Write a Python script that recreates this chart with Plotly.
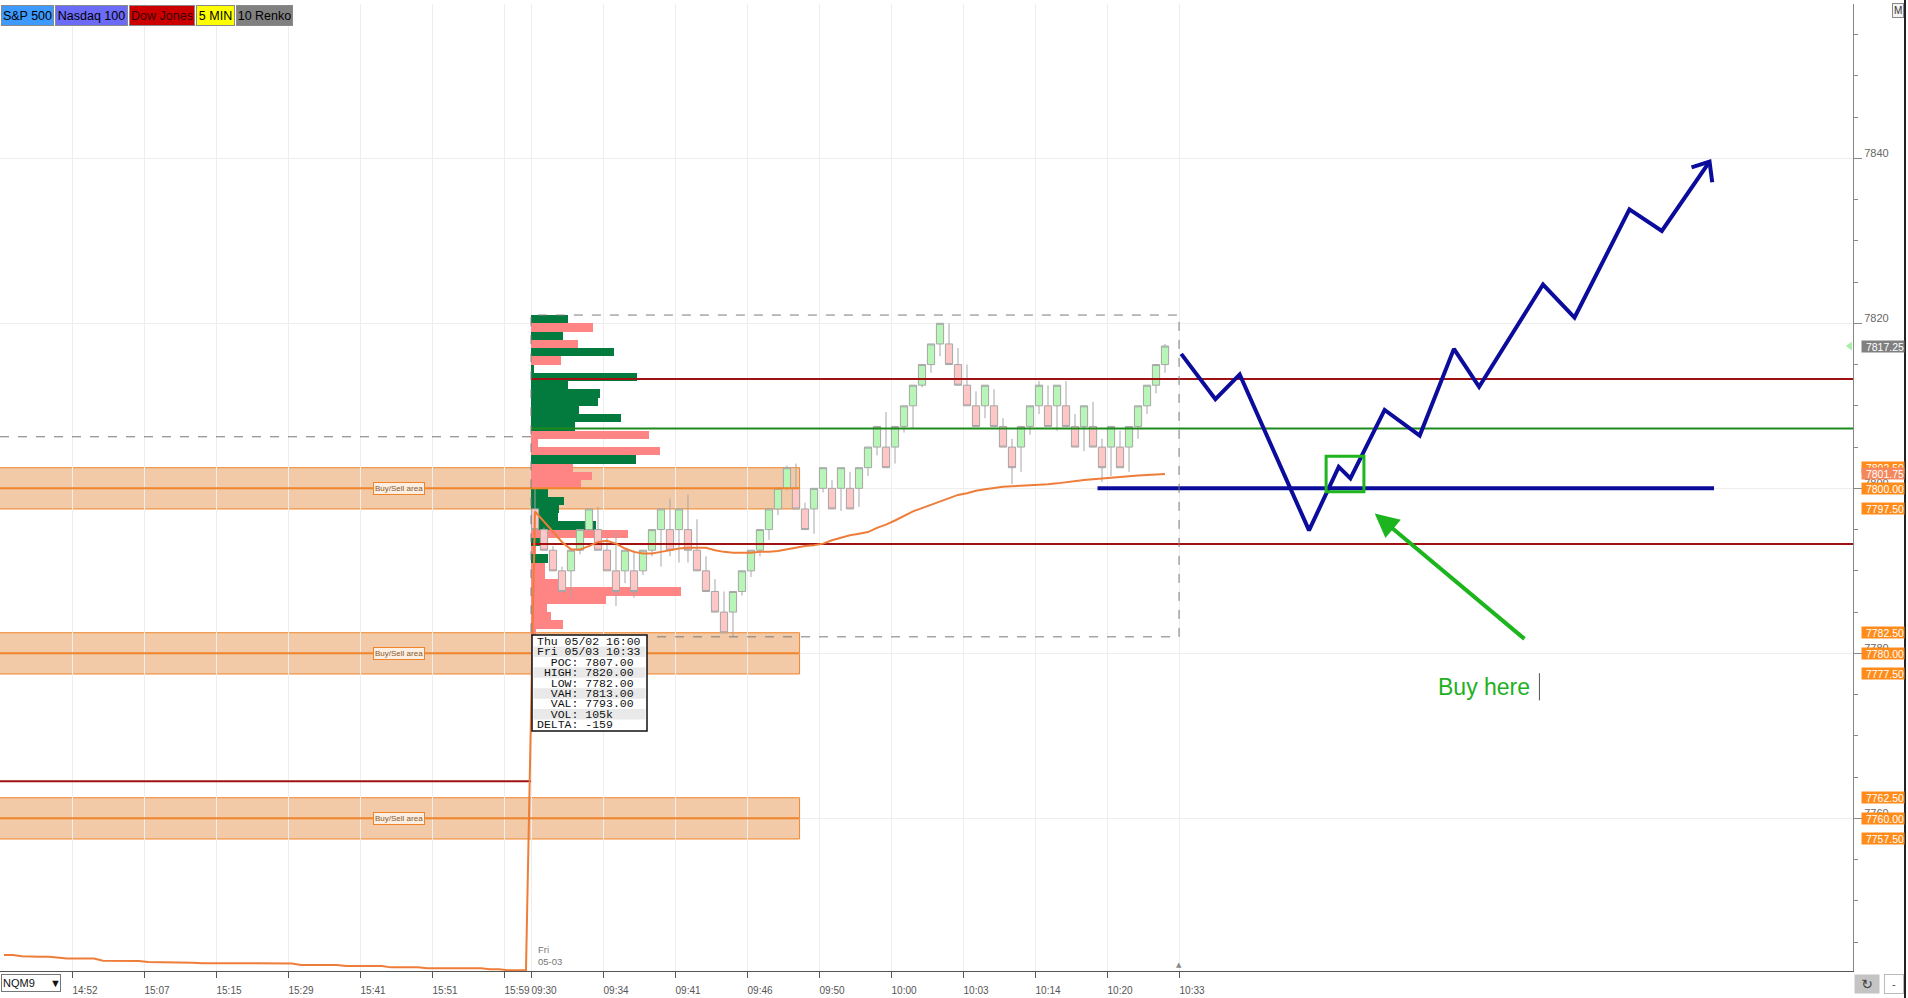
import plotly.graph_objects as go

# ---------------- data ----------------
prev_time_labels = ["14:52", "15:07", "15:15", "15:29", "15:41", "15:51", "15:59"]
session_time_label = "09:30"
day_time_labels = ["09:34", "09:41", "09:46", "09:50", "10:00", "10:03", "10:14", "10:20", "10:33"]

candle_open = [
    7797.5, 7795.0, 7792.5, 7790.0, 7790.0, 7792.5, 7795.0, 7795.0, 7792.5, 7790.0,
    7790.0, 7790.0, 7790.0, 7792.5, 7795.0, 7795.0, 7795.0, 7795.0, 7792.5, 7790.0,
    7787.5, 7785.0, 7785.0, 7787.5, 7790.0, 7792.5, 7795.0, 7797.5, 7800.0, 7800.0,
    7797.5, 7797.5, 7800.0, 7800.0, 7800.0, 7800.0, 7800.0, 7802.5, 7805.0, 7805.0,
    7805.0, 7807.5, 7810.0, 7812.5, 7815.0, 7817.5, 7817.5, 7815.0, 7812.5, 7810.0,
    7810.0, 7810.0, 7807.5, 7805.0, 7805.0, 7807.5, 7810.0, 7810.0, 7810.0, 7810.0,
    7807.5, 7807.5, 7807.5, 7805.0, 7805.0, 7805.0, 7805.0, 7807.5, 7810.0, 7812.5,
    7815.0]
candle_close = [
    7795.0, 7792.5, 7790.0, 7787.5, 7792.5, 7795.0, 7797.5, 7792.5, 7790.0, 7787.5,
    7792.5, 7787.5, 7792.5, 7795.0, 7797.5, 7792.5, 7797.5, 7792.5, 7790.0, 7787.5,
    7785.0, 7782.5, 7787.5, 7790.0, 7792.5, 7795.0, 7797.5, 7800.0, 7802.5, 7797.5,
    7795.0, 7800.0, 7802.5, 7797.5, 7802.5, 7797.5, 7802.5, 7805.0, 7807.5, 7802.5,
    7807.5, 7810.0, 7812.5, 7815.0, 7817.5, 7820.0, 7815.0, 7812.5, 7810.0, 7807.5,
    7812.5, 7807.5, 7805.0, 7802.5, 7807.5, 7810.0, 7812.5, 7807.5, 7812.5, 7807.5,
    7805.0, 7810.0, 7805.0, 7802.5, 7807.5, 7802.5, 7807.5, 7810.0, 7812.5, 7815.0,
    7817.25]
candle_high = [
    7800.0, 7795.25, 7793.0, 7790.5, 7792.5, 7795.0, 7797.5, 7797.75, 7794.0, 7794.75,
    7792.5, 7792.5, 7792.5, 7795.0, 7797.5, 7798.75, 7797.5, 7799.25, 7796.25, 7791.75,
    7789.0, 7787.5, 7787.5, 7790.0, 7792.5, 7795.0, 7797.5, 7800.0, 7802.75, 7803.0,
    7798.25, 7800.0, 7802.5, 7801.0, 7802.5, 7802.0, 7802.5, 7805.0, 7807.5, 7809.25,
    7807.5, 7810.0, 7812.5, 7815.0, 7817.5, 7820.0, 7820.0, 7817.0, 7815.0, 7811.75,
    7812.5, 7812.0, 7808.5, 7806.0, 7807.5, 7810.0, 7813.0, 7812.5, 7812.5, 7813.0,
    7809.0, 7810.0, 7810.5, 7806.0, 7807.5, 7807.0, 7807.5, 7810.0, 7812.5, 7815.0,
    7817.5]
candle_low = [
    7795.0, 7792.5, 7790.0, 7787.5, 7786.75, 7792.0, 7794.75, 7792.5, 7790.0, 7785.75,
    7788.5, 7786.75, 7789.5, 7791.75, 7790.5, 7791.75, 7791.0, 7791.0, 7790.0, 7787.5,
    7785.0, 7782.5, 7782.0, 7787.0, 7789.25, 7791.75, 7793.75, 7796.75, 7799.75, 7797.5,
    7795.0, 7794.5, 7799.5, 7797.5, 7797.25, 7797.5, 7797.75, 7801.5, 7804.0, 7802.5,
    7803.0, 7806.75, 7807.25, 7812.25, 7814.0, 7816.0, 7815.0, 7812.5, 7810.0, 7807.5,
    7808.5, 7807.5, 7805.0, 7800.5, 7802.0, 7806.5, 7809.0, 7807.5, 7807.0, 7807.5,
    7805.0, 7804.5, 7805.0, 7800.75, 7801.5, 7802.5, 7802.0, 7806.0, 7809.0, 7811.5,
    7814.0]

vwap_prev = [
    7743.43, 7743.43, 7743.3, 7743.23, 7743.23, 7743.23, 7743.1, 7743.03, 7743.03, 7743.03,
    7743.0, 7742.74, 7742.74, 7742.74, 7742.74, 7742.7, 7742.58, 7742.58, 7742.58, 7742.58,
    7742.58, 7742.5, 7742.45, 7742.45, 7742.42, 7742.42, 7742.42, 7742.42, 7742.42, 7742.42,
    7742.42, 7742.42, 7742.42, 7742.22, 7742.22, 7742.22, 7742.22, 7742.22, 7742.1, 7742.1,
    7742.1, 7742.1, 7742.1, 7741.94, 7741.94, 7741.94, 7741.94, 7741.82, 7741.82, 7741.82,
    7741.82, 7741.82, 7741.82, 7741.82, 7741.7, 7741.7, 7741.6, 7741.6, 7741.6]
vwap_day = [
    7797.2, 7796.0, 7794.7, 7793.5, 7792.6, 7792.6, 7793.0, 7793.5, 7793.65, 7793.3,
    7792.7, 7792.3, 7792.1, 7792.1, 7792.3, 7792.5, 7792.7, 7792.8, 7792.8, 7792.8,
    7792.5, 7792.3, 7792.2, 7792.2, 7792.2, 7792.3, 7792.3, 7792.4, 7792.6, 7792.8,
    7793.0, 7793.1, 7793.3, 7793.7, 7794.0, 7794.3, 7794.5, 7794.7, 7795.2, 7795.6,
    7796.1, 7796.7, 7797.2, 7797.6, 7798.0, 7798.4, 7798.8, 7799.2, 7799.4, 7799.7,
    7799.9, 7800.05, 7800.2, 7800.25, 7800.3, 7800.35, 7800.45, 7800.5, 7800.6, 7800.75,
    7800.9, 7801.0, 7801.1, 7801.2, 7801.3, 7801.4, 7801.5, 7801.55, 7801.6, 7801.7,
    7801.75]

profile_price = [7820, 7819, 7818, 7817, 7816, 7815, 7814, 7813, 7812, 7811,
                 7810, 7809, 7808, 7807, 7806, 7805, 7804, 7803, 7802, 7801,
                 7800, 7799, 7798, 7797, 7796, 7795, 7794, 7793, 7792, 7791,
                 7790, 7789, 7788, 7787, 7786, 7785, 7784, 7783, 7782]
profile_volume = [37, 62, 32, 47, 83, 30, 3, 106, 37, 69,
                  67, 48, 90, 44, 118, 7, 129, 105, 42, 61,
                  50, 17, 33, 28, 27, 65, 97, 17, 5, 17,
                  14, 14, 27, 150, 75, 16, 20, 32, 5]
profile_side = ["B", "S", "B", "S", "B", "S", "B", "B", "B", "B",
                "B", "B", "B", "B", "S", "S", "S", "B", "S", "S",
                "S", "B", "B", "B", "B", "B", "S", "B", "S", "B",
                "S", "S", "S", "S", "S", "S", "S", "S", "S"]

poc, vah, val = 7807.0, 7813.0, 7793.0
session_high, session_low = 7820.0, 7782.0
session_vol, session_delta = "105k", -159
session_from, session_to = "Thu 05/02 16:00", "Fri 05/03 10:33"
buysell_levels = [7800.0, 7780.0, 7760.0]
buysell_half = 2.5
prev_level_red = 7764.5
prev_level_dashed = 7806.25
last_price = 7817.25
vwap_last = 7801.75
symbol = "NQM9"
day_label = "Fri<br>05-03"

buttons = [("S&P 500", "#3d9bff", "#000000"), ("Nasdaq 100", "#6b6bf7", "#000000"),
           ("Dow Jones", "#cc0000", "#3a0000"), ("5 MIN", "#ffff00", "#000000"),
           ("10 Renko", "#808080", "#000000")]

# hand-drawn plan on the chart (bar index, price)
plan_x = [71.8, 75.6, 78.3, 86.0, 89.3, 90.6, 94.4, 98.3, 102.1, 104.9, 112.0, 115.5, 121.6, 125.2, 130.5]
plan_y = [7816.3, 7810.8, 7813.8, 7794.9, 7802.6, 7801.2, 7809.5, 7806.4, 7816.9, 7812.3, 7824.7, 7820.7, 7833.8, 7831.2, 7839.6]
plan_head_x = [128.5, 130.5, 130.8]
plan_head_y = [7838.9, 7839.6, 7837.1]
plan_level_x = [62.5, 131.0]
plan_level_y = 7800.0
entry_box_x = [87.9, 92.1]
entry_box_y = [7799.6, 7803.9]
arrow_tip = (93.3, 7796.95)
arrow_tail = (110.1, 7781.6)
note_text = "Buy here"
note_pos = (100.1, 7775.9)

# ---------------- layout geometry ----------------
PLOT_L, PLOT_R, PLOT_T, PLOT_B = 0, 1853, 4, 971
X0, X1 = -59.44, 146.44
Y0, Y1 = 7741.5, 7858.7
session_start = -0.44
band_end = 29.4
bar_px = (PLOT_R - PLOT_L) / (X1 - X0)


def paper_x(px):
    return (px - PLOT_L) / (PLOT_R - PLOT_L)


def paper_y(py):
    return (PLOT_B - py) / (PLOT_B - PLOT_T)


day_x = list(range(len(candle_open)))
prev_x = list(range(-len(vwap_prev), 0))

tickvals = [-51.44 + 8 * k for k in range(len(prev_time_labels))] + [session_start] + \
           [7.56 + 8 * k for k in range(len(day_time_labels))]
ticktext = prev_time_labels + [session_time_label] + day_time_labels

FONT = "Liberation Sans, Arial, DejaVu Sans, sans-serif"
NARROW = "Liberation Sans Narrow, Liberation Sans, Arial, sans-serif"

GREEN_PROF = "#037b3e"
PINK_PROF = "#ff8585"
ORANGE = "#f0842a"
BAND_FILL = "#f2caa7"
DARK_RED = "#a01212"
POC_GREEN = "#1e8a1e"
BLUE = "#0c0c9c"
ARROW_GREEN = "#1db51d"

fig = go.Figure()

# volume profile
fig.add_trace(go.Bar(
    orientation="h",
    y=[p + 0.5 for p in profile_price],
    x=[v / bar_px for v in profile_volume],
    base=session_start,
    width=1.0,
    marker=dict(color=[GREEN_PROF if s == "B" else PINK_PROF for s in profile_side], line=dict(width=0)),
    hoverinfo="skip",
))

# band centre lines
for lvl in buysell_levels:
    fig.add_trace(go.Scatter(x=[X0, band_end], y=[lvl, lvl], mode="lines",
                             line=dict(color=ORANGE, width=2), hoverinfo="skip"))

# session value area / poc lines
for lvl, col in [(vah, DARK_RED), (poc, POC_GREEN), (val, DARK_RED)]:
    fig.add_trace(go.Scatter(x=[session_start, X1], y=[lvl + 0.25, lvl + 0.25], mode="lines",
                             line=dict(color=col, width=2), hoverinfo="skip"))

# previous day levels
fig.add_trace(go.Scatter(x=[X0, session_start], y=[prev_level_red] * 2, mode="lines",
                         line=dict(color=DARK_RED, width=2), hoverinfo="skip"))
fig.add_trace(go.Scatter(x=[X0, session_start], y=[prev_level_dashed] * 2, mode="lines",
                         line=dict(color="#777777", width=1, dash="dash"), hoverinfo="skip"))

# candles
fig.add_trace(go.Candlestick(
    x=day_x, open=candle_open, high=candle_high, low=candle_low, close=candle_close,
    increasing=dict(fillcolor="#b8f6b8", line=dict(color="#a6a6a6", width=1)),
    decreasing=dict(fillcolor="#ffc6c6", line=dict(color="#a6a6a6", width=1)),
    whiskerwidth=0, hoverinfo="skip",
))

# vwap
fig.add_trace(go.Scatter(x=prev_x + day_x, y=vwap_prev + vwap_day, mode="lines",
                         line=dict(color="#ef7d3a", width=2), hoverinfo="skip"))

# hand drawn plan
fig.add_trace(go.Scatter(x=plan_level_x, y=[plan_level_y] * 2, mode="lines",
                         line=dict(color=BLUE, width=4), hoverinfo="skip"))
fig.add_trace(go.Scatter(x=plan_x, y=plan_y, mode="lines",
                         line=dict(color=BLUE, width=4), hoverinfo="skip"))
fig.add_trace(go.Scatter(x=plan_head_x, y=plan_head_y, mode="lines",
                         line=dict(color=BLUE, width=4), hoverinfo="skip"))

# price tags on axis
tag_levels = []
for lvl in buysell_levels:
    tag_levels += [lvl + buysell_half, lvl, lvl - buysell_half]
tags = [(v, "#ff8c1a") for v in tag_levels] + [(vwap_last, "#f4875c"), (last_price, "#808080")]
fig.add_trace(go.Scatter(
    x=[X1 + 0.55] * len(tags), y=[t[0] for t in tags], mode="markers",
    marker=dict(symbol="triangle-left", size=11, color=[t[1] for t in tags], line=dict(width=0)),
    cliponaxis=False, hoverinfo="skip"))
fig.add_trace(go.Scatter(
    x=[X1 - 0.35], y=[last_price], mode="markers",
    marker=dict(symbol="triangle-left", size=8, color="#a8eea8", line=dict(width=0)),
    cliponaxis=False, hoverinfo="skip"))

shapes = []
for lvl in buysell_levels:
    shapes.append(dict(type="rect", xref="x", yref="y", x0=X0 - 1, x1=band_end,
                       y0=lvl - buysell_half, y1=lvl + buysell_half,
                       fillcolor=BAND_FILL, line=dict(color=ORANGE, width=1), layer="below"))
shapes.append(dict(type="rect", xref="x", yref="y", x0=session_start, x1=71.56,
                   y0=session_low, y1=session_high + 1.0,
                   line=dict(color="#7a7a7a", width=1, dash="dash"), layer="above"))
shapes.append(dict(type="rect", xref="x", yref="y", x0=entry_box_x[0], x1=entry_box_x[1],
                   y0=entry_box_y[0], y1=entry_box_y[1],
                   line=dict(color="#1fb51f", width=3), layer="above"))
# text cursor after note
shapes.append(dict(type="line", xref="x", yref="y", x0=111.6, x1=111.6, y0=7774.3, y1=7777.6,
                   line=dict(color="#555555", width=1)))
# info box
box_l, box_r, box_t, box_b = 532, 647, 635, 731
shapes.append(dict(type="rect", xref="paper", yref="paper", x0=paper_x(box_l), x1=paper_x(box_r),
                   y0=paper_y(box_b), y1=paper_y(box_t), fillcolor="white",
                   line=dict(color="#111111", width=1.5), layer="above"))
info_lines = [session_from, session_to,
              f"  POC: {poc:.2f}", f" HIGH: {session_high:.2f}", f"  LOW: {session_low:.2f}",
              f"  VAH: {vah:.2f}", f"  VAL: {val:.2f}", f"  VOL: {session_vol}",
              f"DELTA: {session_delta}"]
row_h = (box_b - box_t - 2) / len(info_lines)
for i in range(len(info_lines)):
    if i % 2 == 1:
        shapes.append(dict(type="rect", xref="paper", yref="paper",
                           x0=paper_x(box_l + 1.5), x1=paper_x(box_r - 1.5),
                           y0=paper_y(box_t + 1 + (i + 1) * row_h), y1=paper_y(box_t + 1 + i * row_h),
                           fillcolor="#e9e9e9", line=dict(width=0), layer="above"))
# outer right border
shapes.append(dict(type="line", xref="paper", yref="paper", x0=paper_x(1905), x1=paper_x(1905),
                   y0=paper_y(998), y1=paper_y(0), line=dict(color="#222222", width=2)))

annotations = []
for i, line in enumerate(info_lines):
    annotations.append(dict(xref="paper", yref="paper", x=paper_x(box_l + 3), xanchor="left",
                            y=paper_y(box_t + 1 + (i + 0.5) * row_h), yanchor="middle",
                            text=line.replace(" ", "\u00a0"), showarrow=False,
                            font=dict(family="Liberation Mono, Courier New, monospace", size=11.5,
                                      color="#111111")))

for lvl in buysell_levels:
    annotations.append(dict(x=-15.1, y=lvl, xref="x", yref="y", text="Buy/Sell area", showarrow=False,
                            font=dict(family=NARROW, size=8, color="#8a5a2a"),
                            bgcolor="#fbeee2", bordercolor=ORANGE, borderwidth=1, borderpad=1))

# axis tags (vwap drawn after its neighbours)
tag_order = [t for t in tags if t[0] != vwap_last] + [t for t in tags if t[0] == vwap_last]
for v, col in tag_order:
    annotations.append(dict(xref="paper", yref="y", x=paper_x(1861), xanchor="left", y=v, yanchor="middle",
                            text=f"{v:.2f}", showarrow=False, width=42, height=11, align="right",
                            bgcolor=col, borderpad=0,
                            font=dict(family=FONT, size=10.5, color="white")))

# buttons
bx = [(1, 54), (55, 128), (129, 195), (196, 235), (236, 293)]
for (txt, bg, fg), (a, b) in zip(buttons, bx):
    annotations.append(dict(xref="paper", yref="paper", x=paper_x(a), xanchor="left",
                            y=paper_y(5), yanchor="top", text=txt, showarrow=False,
                            width=b - a - 4, height=17, bgcolor=bg, bordercolor="#8a8a8a",
                            borderwidth=1, borderpad=1, font=dict(family=FONT, size=12.5, color=fg)))

annotations.append(dict(xref="paper", yref="paper", x=paper_x(1892), xanchor="left", y=paper_y(3),
                        yanchor="top", text="M", showarrow=False, bgcolor="#f4f4f4",
                        bordercolor="#888888", borderwidth=1, borderpad=1,
                        font=dict(family=FONT, size=10, color="#333333")))
annotations.append(dict(xref="paper", yref="paper", x=paper_x(1), xanchor="left", y=paper_y(974),
                        yanchor="top", text=symbol + "\u00a0" * 5 + "\u25bc", showarrow=False,
                        width=56, height=14, align="left", bgcolor="white", bordercolor="#777777",
                        borderwidth=1, borderpad=1, font=dict(family=NARROW, size=11, color="#111111")))
annotations.append(dict(xref="paper", yref="paper", x=paper_x(1854), xanchor="left", y=paper_y(974),
                        yanchor="top", text="\u21bb", showarrow=False, width=24, height=18,
                        bgcolor="#c4c4c4", borderpad=0, font=dict(family="DejaVu Sans", size=14, color="#444444")))
annotations.append(dict(xref="paper", yref="paper", x=paper_x(1884), xanchor="left", y=paper_y(974),
                        yanchor="top", text="-", showarrow=False, width=18, height=18,
                        bgcolor="white", bordercolor="#bbbbbb", borderwidth=1, borderpad=0,
                        font=dict(family=FONT, size=11, color="#444444")))
annotations.append(dict(xref="paper", yref="paper", x=paper_x(536), xanchor="left", y=paper_y(969),
                        yanchor="bottom", text=day_label, showarrow=False, align="left",
                        font=dict(family=NARROW, size=9.5, color="#777777")))
annotations.append(dict(xref="x", yref="paper", x=71.56, y=0, yanchor="bottom", text="\u25b2",
                        showarrow=False, font=dict(family="DejaVu Sans", size=7, color="#888888")))

# green arrow and note
annotations.append(dict(xref="x", yref="y", x=arrow_tip[0], y=arrow_tip[1], axref="x", ayref="y",
                        ax=arrow_tail[0], ay=arrow_tail[1], text="", showarrow=True, arrowhead=2,
                        arrowsize=1.2, arrowwidth=4, arrowcolor=ARROW_GREEN))
annotations.append(dict(xref="x", yref="y", x=note_pos[0], y=note_pos[1], xanchor="left", yanchor="middle",
                        text=note_text, showarrow=False,
                        font=dict(family=FONT, size=23, color="#22b022")))

fig.update_layout(
    width=1908, height=998,
    margin=dict(l=PLOT_L, r=1908 - PLOT_R, t=PLOT_T, b=998 - PLOT_B, autoexpand=False),
    paper_bgcolor="white", plot_bgcolor="white",
    showlegend=False, boxgap=0.2, boxgroupgap=0, bargap=0,
    shapes=shapes, annotations=annotations,
    xaxis=dict(range=[X0, X1], tickmode="array", tickvals=tickvals, ticktext=ticktext,
               ticks="outside", ticklen=6, tickcolor="#555555", tickangle=0,
               ticklabelshift=13, ticklabelstandoff=4,
               tickfont=dict(family=NARROW, size=10, color="#555555"),
               showgrid=True, gridcolor="#eeeeee", zeroline=False,
               showline=True, linecolor="#555555", linewidth=1,
               rangeslider=dict(visible=False), fixedrange=True, automargin=False),
    yaxis=dict(range=[Y0, Y1], side="right", tick0=7800, dtick=20,
               ticks="outside", ticklen=8, tickcolor="#888888",
               ticklabelshift=-5, tickfont=dict(family=NARROW, size=11, color="#666666"),
               minor=dict(dtick=5, ticks="outside", ticklen=4, tickcolor="#888888", showgrid=False),
               showgrid=True, gridcolor="#eeeeee", zeroline=False,
               showline=True, linecolor="#888888", linewidth=1, fixedrange=True, automargin=False),
)

fig.write_html("out.html", config={"displayModeBar": False},
               post_script="document.body.style.margin='0';document.body.style.overflow='hidden';")
